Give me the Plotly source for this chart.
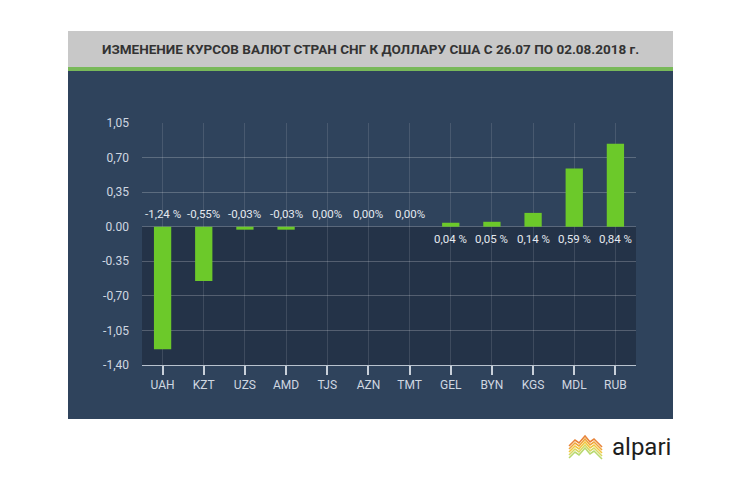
import plotly.graph_objects as go

categories = ["UAH", "KZT", "UZS", "AMD", "TJS", "AZN", "TMT", "GEL", "BYN", "KGS", "MDL", "RUB"]
values = [-1.24, -0.55, -0.03, -0.03, 0.00, 0.00, 0.00, 0.04, 0.05, 0.14, 0.59, 0.84]
value_labels = ["-1,24 %", "-0,55%", "-0,03%", "-0,03%", "0,00%", "0,00%", "0,00%",
                "0,04 %", "0,05 %", "0,14 %", "0,59 %", "0,84 %"]
tick_vals = [1.05, 0.70, 0.35, 0.00, -0.35, -0.70, -1.05, -1.40]
tick_text = ["1,05", "0,70", "0,35", "0.00", "-0.35", "-0,70", "-1,05", "-1,40"]
title = "ИЗМЕНЕНИЕ КУРСОВ ВАЛЮТ СТРАН СНГ К ДОЛЛАРУ США С 26.07 ПО 02.08.2018 г."

W, H = 742, 485
OFF = 8  # default page body margin
L, R, T, B = 142, 636, 123, 365  # plot area in page px


def px(x):
    return (x - L) / (R - L)


def py(y):
    return (B - y) / (B - T)


fig = go.Figure()
fig.add_trace(go.Bar(
    x=categories, y=values, width=0.42,
    marker=dict(color="#6cc92a", line=dict(width=0)),
    hoverinfo="skip",
))

annotations = []
for c, v, t in zip(categories, values, value_labels):
    annotations.append(dict(
        x=c, y=0, xref="x", yref="y", text=t, showarrow=False,
        yshift=13 if v <= 0 else -12,
        font=dict(family="Roboto", size=11.5, color="#e4e9ef"),
    ))

annotations.append(dict(
    x=px(370), y=py(49), xref="paper", yref="paper", text="<b>" + title + "</b>", showarrow=False,
    font=dict(family="Roboto", size=13.5, color="#333333"), xanchor="center", yanchor="middle",
))
annotations.append(dict(
    x=px(610), y=py(447), xref="paper", yref="paper", text="alpari", showarrow=False,
    font=dict(family="Roboto", size=24, color="#1e1e1e"), xanchor="left", yanchor="middle",
))

shapes = [
    dict(type="rect", xref="paper", yref="paper", x0=px(68), x1=px(673), y0=py(68), y1=py(31),
         fillcolor="#c8c8c8", line=dict(width=0), layer="below"),
    dict(type="rect", xref="paper", yref="paper", x0=px(68), x1=px(673), y0=py(71), y1=py(67),
         fillcolor="#79b95a", line=dict(width=0), layer="below"),
    dict(type="rect", xref="paper", yref="paper", x0=px(68), x1=px(673), y0=py(419), y1=py(71),
         fillcolor="#2f435c", line=dict(width=0), layer="below"),
    dict(type="rect", xref="paper", yref="y", x0=0, x1=1, y0=-1.40, y1=0,
         fillcolor="#243348", line=dict(width=0), layer="below"),
]

logo_colors = ["#e8843a", "#f0a63a", "#f2c640", "#d8d860", "#b8d870"]
for i, col in enumerate(logo_colors):
    dy = i * 3
    pts = [(569, 446 + dy), (575, 440 + dy), (579, 443 + dy), (585, 436 + dy),
           (590, 442 + dy), (594, 439 + dy), (602, 447 + dy)]
    path = "M " + " L ".join(f"{px(x):.4f},{py(y):.4f}" for x, y in pts)
    shapes.append(dict(type="path", xref="paper", yref="paper", path=path,
                       line=dict(color=col, width=1.6)))

fig.update_layout(
    width=W, height=H,
    margin=dict(l=L - OFF, r=W - (R - OFF), t=T - OFF, b=H - (B - OFF), pad=0),
    paper_bgcolor="white", plot_bgcolor="rgba(0,0,0,0)",
    showlegend=False,
    annotations=annotations, shapes=shapes,
    xaxis=dict(
        showgrid=True, gridcolor="rgba(255,255,255,0.12)", gridwidth=1,
        showline=True, linecolor="#b8c2ce", linewidth=1,
        ticks="outside", ticklen=9, tickcolor="#c8d0da", tickwidth=1.5,
        tickfont=dict(family="Roboto", size=12, color="#cfd7e1"),
        zeroline=False, fixedrange=True,
    ),
    yaxis=dict(
        range=[-1.40, 1.05], tickvals=tick_vals, ticktext=tick_text,
        showgrid=True, gridcolor="rgba(255,255,255,0.22)", gridwidth=1,
        zeroline=True, zerolinecolor="rgba(255,255,255,0.22)", zerolinewidth=1,
        showline=False, ticks="", ticklabelstandoff=12,
        tickfont=dict(family="Roboto", size=12, color="#cfd7e1"),
        fixedrange=True,
    ),
)

fig.write_html("out.html")
